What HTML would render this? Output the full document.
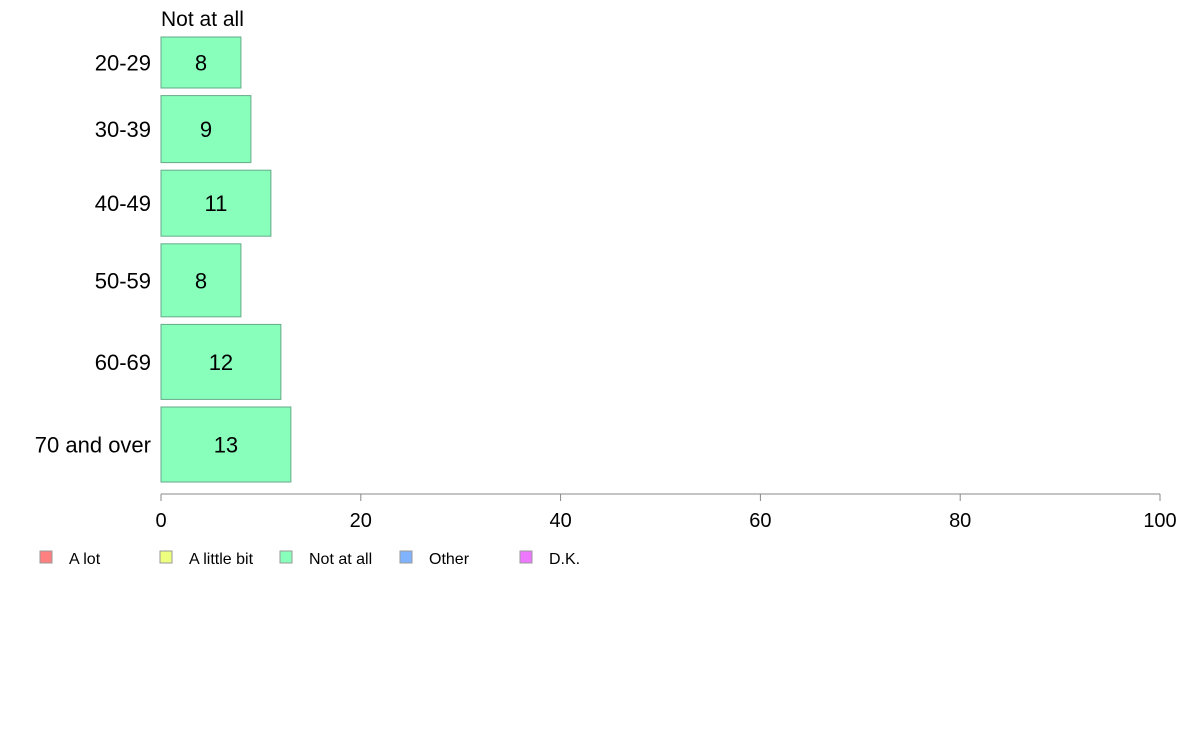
<!DOCTYPE html>
<html><head><meta charset="utf-8"><style>
body{margin:0;background:#fff;font-family:"Liberation Sans",Arial,sans-serif}
svg text{font-family:"Liberation Sans",Arial,sans-serif}
</style></head><body>
<svg id="c" width="1188" height="736">
<text x="161" y="26" font-size="21">Not at all</text>
<g id="bars"></g>
<g id="axis"></g>
<g id="legend"></g>
</svg>
<script>
const categories=["20-29","30-39","40-49","50-59","60-69","70 and over"];
const values=[8,9,11,8,12,13];
const groupSizes=[51,67,66,73,75,75];
const ticks=[0,20,40,60,80,100];
const legendLabels=["A lot","A little bit","Not at all","Other","D.K."];
const legendColors=["#ff8080","#eeff80","#88ffbb","#80b3ff","#ee77ff"];
const ns="http://www.w3.org/2000/svg";
const x0=161,x1=1160;
const xs=v=>x0+(x1-x0)*v/100;
function mk(t,a,p){const e=document.createElementNS(ns,t);for(const k in a)e.setAttribute(k,a[k]);p.appendChild(e);return e;}
const bars=document.getElementById('bars');
let y=37;const gap=7.6;
categories.forEach((c,i)=>{
  const h=groupSizes[i];
  const r=mk('rect',{x:x0,y:y,width:xs(values[i])-x0,height:h,fill:'#88ffbb',stroke:'#66aa88','stroke-width':1},bars);
  
  
  const t=mk('text',{x:(x0+xs(values[i]))/2,y:y+h/2+8,'font-size':22,'text-anchor':'middle'},bars);
  t.textContent=values[i];
  
  
  const l=mk('text',{x:151,y:y+h/2+8,'font-size':22,'text-anchor':'end'},bars);
  l.textContent=c;
  
  
  y+=h+gap;
});
const ax=document.getElementById('axis');
const ln=mk('line',{x1:x0,x2:x1,y1:494,y2:494,stroke:'#888'},ax);


ticks.forEach(v=>{
  const tk=mk('line',{x1:xs(v),x2:xs(v),y1:494,y2:501,stroke:'#888'},ax);
  
  
  const t=mk('text',{x:xs(v),y:527,'font-size':20,'text-anchor':'middle'},ax);
  t.textContent=v;
  
  
});
const lg=document.getElementById('legend');
legendLabels.forEach((s,i)=>{
  const r=mk('rect',{x:40+120*i,y:551,width:12,height:12,fill:legendColors[i],stroke:'#999'},lg);
  
  
  const t=mk('text',{x:69+120*i,y:564,'font-size':16},lg);
  t.textContent=s;
  
  
});
</script>
</body></html>
